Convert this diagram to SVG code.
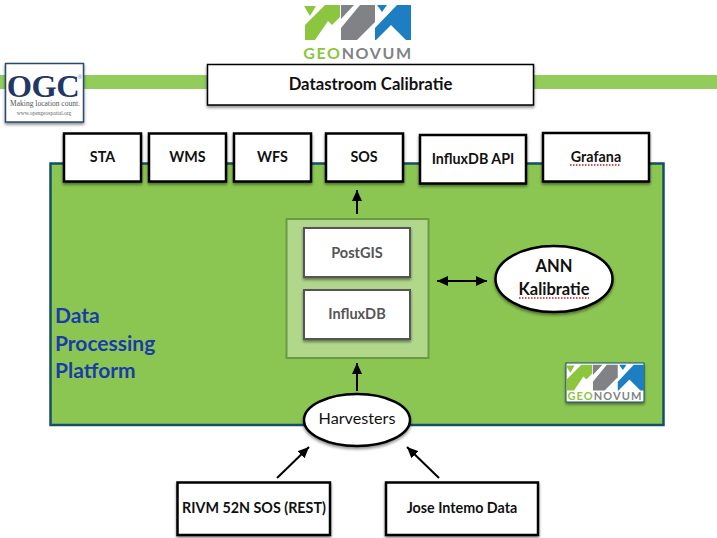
<svg xmlns="http://www.w3.org/2000/svg" xmlns:xlink="http://www.w3.org/1999/xlink" width="717" height="538" viewBox="0 0 717 538">
<style>
text{font-family:"Lato","Open Sans","Liberation Sans",sans-serif;font-weight:700;text-anchor:middle;fill:#111}
.box{fill:#fff;stroke:#000;stroke-width:2.5;filter:url(#sh)}
.thin{stroke-width:1.5}
.db{fill:#fff;stroke:#555;stroke-width:2;filter:url(#sh)}
.dbt{fill:#555;font-size:14.5px}
.lbl{font-size:14.3px}
.conn{stroke:#000;stroke-width:2;fill:none;marker-end:url(#ah)}
.sq{stroke:#d01818;stroke-width:1.500;stroke-dasharray:1.500 1.500;fill:none}
.pf{font-size:21px;fill:#1a3caa;text-anchor:start}
</style>
<defs>
<filter id="sh" x="-20%" y="-20%" width="140%" height="150%"><feDropShadow dx="0" dy="2" stdDeviation="1.6" flood-color="#000" flood-opacity=".45"/></filter>
<marker id="ah" markerUnits="userSpaceOnUse" markerWidth="12" markerHeight="10" refX="11" refY="5" orient="auto-start-reverse"><path d="M0 0L11 5L0 10z" fill="#000"/></marker>
<g id="logo">
<polygon fill="#8cc63f" points="304,6 316,6 310,16"/>
<polygon fill="#8cc63f" points="325,5 340,5 340,17 332,25 328,21 315,40 305,40 305,25"/>
<polygon fill="#808285" points="341,5 354,5 341,19"/>
<polygon fill="#808285" points="360,5 375,5 375,22 357,40 341,40 341,28"/>
<polygon fill="#1d7fc1" points="377,5 387,5 382,12"/>
<polygon fill="#1d7fc1" points="397,5 411,5 411,40 406,40 391,25 376,40 375,40 375,28"/>
</g>
</defs>

<rect id="bar" x="0" y="75" width="717" height="14" fill="#92cd5b"/>

<g id="geonovum-top">
<use xlink:href="#logo"/>
<text x="358" y="59" style="font-size:16px;letter-spacing:1.600px;fill:#808285"><tspan fill="#8cc63f">GEO</tspan>NOVUM</text>
</g>

<g id="ogc">
<rect x="5.500" y="63.500" width="78" height="58.500" fill="#fff" stroke="#2a4a6e" stroke-width="1.500" filter="url(#sh)"/>
<text x="43" y="96.500" style="font-family:'Liberation Serif',serif;font-size:32.500px;fill:#1f3864;letter-spacing:-.5px">OGC</text>
<text x="80" y="79" style="font-family:'Liberation Sans',sans-serif;font-size:6px;font-weight:400;fill:#6b7a94">®</text>
<text x="45" y="105.500" style="font-family:'Liberation Serif',serif;font-size:7.500px;font-weight:400;fill:#555">Making location count.</text>
<text x="44" y="115" style="font-family:'Liberation Serif',serif;font-size:5.500px;font-weight:400;fill:#666">www.opengeospatial.org</text>
</g>

<g id="title">
<rect class="box thin" x="207.500" y="64.500" width="326" height="40.500"/>
<text x="370.500" y="90" style="font-size:16.700px">Datastroom Calibratie</text>
</g>

<g id="platform">
<rect x="50.500" y="163.500" width="613" height="261.500" fill="#8cc652" stroke="#134f66" stroke-width="2.500"/>
<text class="pf" x="55" y="322.500">Data</text>
<text class="pf" x="55" y="350.500">Processing</text>
<text class="pf" x="55" y="378">Platform</text>
</g>

<g id="sta"><rect class="box" x="64" y="133.500" width="77" height="48"/><text class="lbl" x="102.500" y="162">STA</text></g>
<g id="wms"><rect class="box" x="149" y="133.500" width="77" height="48"/><text class="lbl" x="187.500" y="162">WMS</text></g>
<g id="wfs"><rect class="box" x="234" y="133.500" width="77" height="48"/><text class="lbl" x="272.500" y="162">WFS</text></g>
<g id="sos"><rect class="box" x="326" y="133.500" width="77" height="48"/><text class="lbl" x="364" y="162">SOS</text></g>
<g id="influxdb-api"><rect class="box" x="420" y="135" width="106" height="48.500"/><text class="lbl" x="473" y="164">InfluxDB API</text></g>
<g id="grafana"><rect class="box" x="543" y="133" width="106" height="48.500"/><text class="lbl" x="596" y="162">Grafana</text><path class="sq" d="M570 165H621"/></g>

<g id="store">
<rect x="286.500" y="219" width="142" height="139" fill="#b0d78a" stroke="#6a9a45" stroke-width="2"/>
</g>
<g id="postgis"><rect class="db" x="304" y="228" width="106" height="49"/><text class="dbt" x="357" y="258">PostGIS</text></g>
<g id="influxdb"><rect class="db" x="304" y="290" width="106" height="49"/><text class="dbt" x="357" y="319">InfluxDB</text></g>

<g id="ann"><ellipse cx="554" cy="279" rx="58.500" ry="33" fill="#fff" stroke="#000" stroke-width="2.500" filter="url(#sh)"/><text x="554" y="272" style="font-size:16.500px">ANN</text><text x="554" y="295" style="font-size:16.500px">Kalibratie</text><path class="sq" d="M519 298H589"/></g>

<g id="harvesters"><ellipse cx="357" cy="420" rx="53" ry="26" fill="#fff" stroke="#000" stroke-width="2.500" filter="url(#sh)"/><text x="357" y="424" style="font-size:16.200px;font-weight:400">Harvesters</text></g>

<g id="rivm"><rect class="box" x="177.500" y="482.500" width="152.500" height="52.500"/><text class="lbl" x="254" y="513">RIVM 52N SOS (REST)</text></g>
<g id="jose"><rect class="box" x="386" y="482.500" width="152" height="52.500"/><text class="lbl" x="462" y="513">Jose Intemo Data</text></g>

<g id="geonovum-small">
<rect x="566" y="363" width="78" height="39" fill="#fff" stroke="#134f66" stroke-width="1" filter="url(#sh)"/>
<use xlink:href="#logo" transform="translate(344 361) scale(.73 .74)"/>
<text x="605" y="400" style="font-size:11px;letter-spacing:1.100px;fill:#808285"><tspan fill="#8cc63f">GEO</tspan>NOVUM</text>
</g>

<g id="connectors">
<path class="conn" d="M357 214V190"/>
<path class="conn" d="M357 391V363"/>
<path class="conn" d="M437 281H487" marker-start="url(#ah)"/>
<path class="conn" d="M277 478L309 447"/>
<path class="conn" d="M439 478L407 447"/>
</g>
</svg>
